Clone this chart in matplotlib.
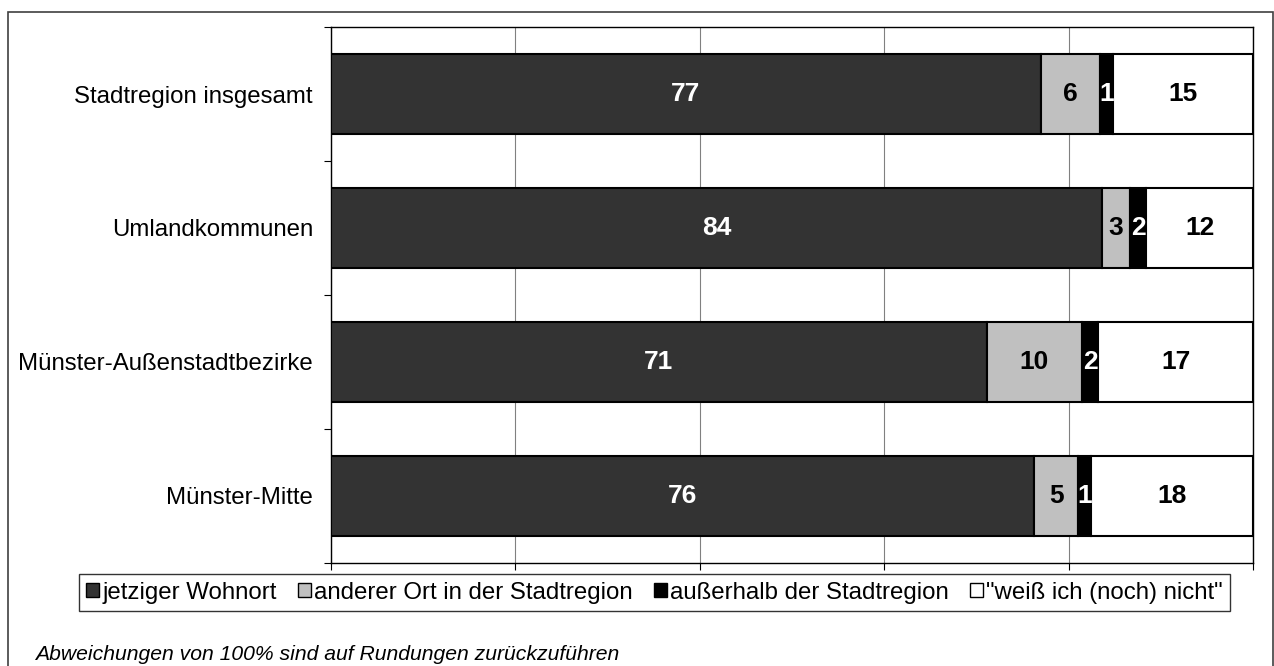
import matplotlib.pyplot as plt
import matplotlib.patches as mpatches
import numpy as np

plt.rcParams['font.family'] = ['Liberation Sans', 'DejaVu Sans']

# Data (percent; labels are rounded values)
categories = ['Stadtregion insgesamt', 'Umlandkommunen',
              'Münster-Außenstadtbezirke', 'Münster-Mitte']
series_names = ['jetziger Wohnort', 'anderer Ort in der Stadtregion',
                'außerhalb der Stadtregion', '"weiß ich (noch) nicht"']
wohnort = [77.0, 83.6, 71.1, 76.3]
anderer_ort = [6.4, 3.1, 10.4, 4.7]
ausserhalb = [1.4, 1.7, 1.7, 1.4]
weiss_nicht = [15.2, 11.6, 16.8, 17.6]
footnote = 'Abweichungen von 100% sind auf Rundungen zurückzuführen'

series = [wohnort, anderer_ort, ausserhalb, weiss_nicht]
fill_colors = ['#333333', '#c0c0c0', '#000000', '#ffffff']
text_colors = ['white', 'black', 'white', 'black']

fig = plt.figure(figsize=(12.74, 6.66), dpi=100)
ax = fig.add_axes([331 / 1274, 1 - 563 / 666, 922 / 1274, 536 / 666])

y = np.arange(len(categories))
left = np.zeros(len(categories))
for vals, name, fc, tc in zip(series, series_names, fill_colors, text_colors):
    bars = ax.barh(y, vals, left=left, height=0.59, color=fc,
                   edgecolor='black', linewidth=1.5, label=name, zorder=3)
    ax.bar_label(bars, labels=[f'{v:.0f}' for v in vals], label_type='center',
                 color=tc, fontsize=19, fontweight='bold', zorder=4)
    left += np.array(vals)

ax.set_xlim(0, 100)
ax.set_ylim(len(categories) - 0.5, -0.5)

ax.set_xticks(np.arange(0, 101, 20))
ax.set_xticklabels([])
ax.tick_params(axis='x', direction='out', length=5, width=0.8, color='black')
ax.xaxis.grid(True, color='#808080', linewidth=0.8, zorder=0)

ax.set_yticks(y)
ax.set_yticklabels(categories, fontsize=17.3)
ax.set_yticks(np.arange(-0.5, len(categories)), minor=True)
ax.tick_params(axis='y', which='major', length=0, pad=13)
ax.tick_params(axis='y', which='minor', direction='out', length=5,
               width=0.8, color='black')

for sp in ax.spines.values():
    sp.set_color('black')
    sp.set_linewidth(1.0)

leg = fig.legend(loc='center', bbox_to_anchor=(654.5 / 1274, 1 - 592.5 / 666),
                 ncol=4, fontsize=17.3, frameon=True, fancybox=False,
                 handlelength=0.55, handleheight=0.55, handletextpad=0.15,
                 columnspacing=0.85, borderpad=0.3, borderaxespad=0)
leg.get_frame().set_edgecolor('black')
leg.get_frame().set_linewidth(1.0)
for h in leg.legend_handles:
    h.set_linewidth(1.0)

fig.text(35 / 1274, 1 - 655 / 666, footnote, fontsize=15.2,
         style='italic', ha='left', va='center')

# outer chart border
border = mpatches.Rectangle((7.5 / 1274, -0.05), (1273 - 7.5) / 1274,
                            1.05 - 12 / 666, transform=fig.transFigure,
                            fill=False, edgecolor='#404040', linewidth=1.2,
                            clip_on=False)
fig.patches.append(border)

fig.savefig('out.png', dpi=100)
